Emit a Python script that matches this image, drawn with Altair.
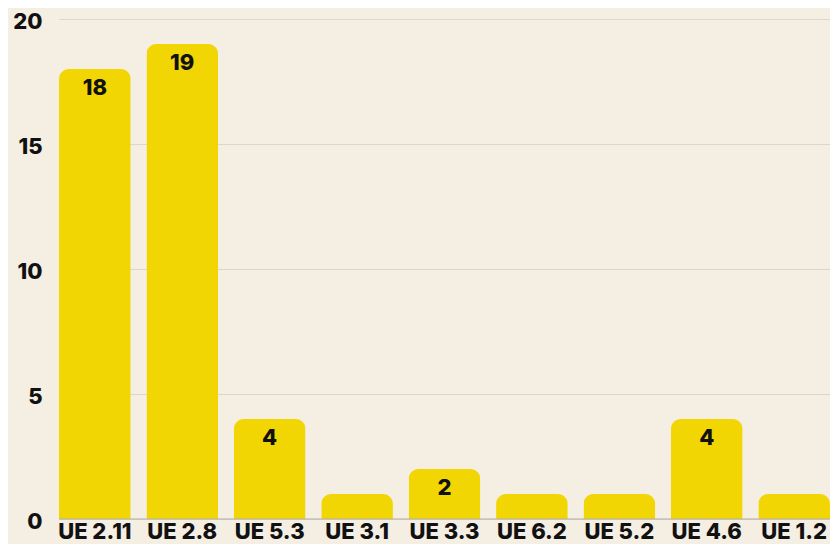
import altair as alt
import pandas as pd

categories = ["UE 2.11", "UE 2.8", "UE 5.3", "UE 3.1", "UE 3.3", "UE 6.2", "UE 5.2", "UE 4.6", "UE 1.2"]
values = [18, 19, 4, 1, 2, 1, 1, 4, 1]

df = pd.DataFrame({"cat": categories, "v": values})

FONT = "Inter"
BG = "#f4eee3"
BAR = "#f2d604"
INK = "#111111"

x = alt.X("cat:N", sort=categories, title=None,
          scale=alt.Scale(paddingInner=0.18, paddingOuter=0),
          axis=alt.Axis(labelAngle=0, labelFont=FONT, labelFontSize=22, labelFontWeight=800,
                        labelColor=INK, ticks=False, domain=False, labelPadding=19,
                        labelBaseline="alphabetic"))
y = alt.Y("v:Q", title=None,
          scale=alt.Scale(domain=[0, 20]),
          axis=alt.Axis(values=[0, 5, 10, 15, 20], labelFont=FONT, labelFontSize=22,
                        labelFontWeight=800, labelColor=INK, ticks=False, domain=False,
                        labelPadding=17, labelOffset=2, gridColor="#dcd7cd", gridWidth=1))

bars = alt.Chart(df).mark_bar(color=BAR, cornerRadiusTopLeft=10, cornerRadiusTopRight=10).encode(x=x, y=y)

labels = alt.Chart(df).transform_filter("datum.v > 1").mark_text(
    font=FONT, fontSize=22, fontWeight=800, color=INK, baseline="middle", dy=19
).encode(x=alt.X("cat:N", sort=categories), y="v:Q", text="v:Q")

base = alt.Chart(pd.DataFrame({"z": [0]})).mark_rule(color="#b3aea5", strokeWidth=1).encode(y="z:Q")

chart = alt.layer(bars, base, labels).properties(
    width=771, height=500, background=BG,
    padding={"left": 51, "top": 11, "right": 0, "bottom": 25},
    autosize=alt.AutoSizeParams(type="none"),
).configure_view(stroke=None)

chart.save("out.html", embed_options={"renderer": "svg", "actions": False})
